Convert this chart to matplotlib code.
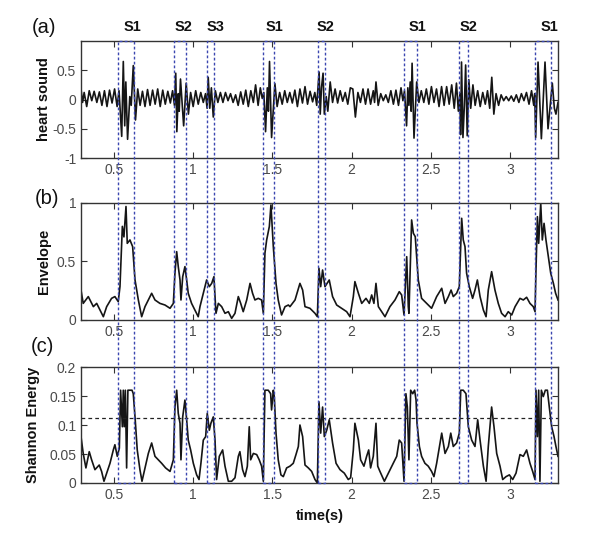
import matplotlib
matplotlib.use('Agg')
import matplotlib.pyplot as plt
from matplotlib.patches import Rectangle

plt.rcParams['font.family'] = ['Liberation Sans', 'DejaVu Sans']

# ---------------- data ----------------
hs_t = [0.292, 0.302, 0.312, 0.328, 0.344, 0.360, 0.375, 0.392, 0.408, 0.424, 0.440, 0.456, 0.472, 0.488,
        0.504, 0.520, 0.532, 0.542, 0.549, 0.559, 0.568, 0.575, 0.586, 0.600, 0.609, 0.622, 0.636, 0.650,
        0.665, 0.680, 0.696, 0.712, 0.728, 0.744, 0.760, 0.776, 0.792, 0.808, 0.824, 0.840, 0.856, 0.870,
        0.882, 0.890, 0.897, 0.906, 0.912, 0.920, 0.940, 0.956, 0.970, 0.984, 1.000, 1.016, 1.032, 1.048,
        1.064, 1.078, 1.088, 1.095, 1.105, 1.115, 1.127, 1.140, 1.156, 1.172, 1.188, 1.204, 1.220, 1.236,
        1.252, 1.268, 1.284, 1.300, 1.316, 1.332, 1.348, 1.364, 1.380, 1.394, 1.410, 1.424, 1.436, 1.446,
        1.457, 1.468, 1.475, 1.482, 1.495, 1.516, 1.530, 1.546, 1.562, 1.578, 1.594, 1.610, 1.626, 1.642,
        1.658, 1.674, 1.690, 1.706, 1.722, 1.738, 1.754, 1.768, 1.780, 1.795, 1.802, 1.810, 1.820, 1.828,
        1.840, 1.850, 1.865, 1.880, 1.896, 1.912, 1.928, 1.944, 1.960, 1.976, 1.992, 2.008, 2.024, 2.040,
        2.056, 2.072, 2.088, 2.104, 2.120, 2.137, 2.145, 2.154, 2.168, 2.184, 2.200, 2.216, 2.232, 2.248,
        2.264, 2.280, 2.296, 2.312, 2.324, 2.334, 2.347, 2.355, 2.362, 2.370, 2.376, 2.382, 2.394, 2.411,
        2.425, 2.440, 2.456, 2.472, 2.488, 2.504, 2.520, 2.536, 2.552, 2.568, 2.584, 2.600, 2.616, 2.632,
        2.648, 2.662, 2.674, 2.684, 2.688, 2.694, 2.703, 2.712, 2.720, 2.730, 2.740, 2.752, 2.766, 2.780,
        2.796, 2.812, 2.828, 2.844, 2.858, 2.872, 2.885, 2.898, 2.912, 2.928, 2.944, 2.960, 2.976, 2.992,
        3.008, 3.024, 3.040, 3.056, 3.072, 3.088, 3.104, 3.120, 3.136, 3.150, 3.156, 3.162, 3.177, 3.198,
        3.221, 3.240, 3.267, 3.280, 3.290, 3.303]
hs_v = [0.18, -0.05, 0.12, -0.12, 0.15, -0.02, 0.14, -0.05, 0.13, -0.10, 0.15, -0.12, 0.16, -0.06,
        0.18, -0.12, 0.15, -0.30, -0.63, 0.65, -0.45, 0.30, -0.68, 0.05, -0.10, 0.58, -0.35, 0.18,
        -0.10, 0.14, -0.12, 0.17, -0.10, 0.16, -0.08, 0.18, -0.12, 0.16, -0.08, 0.14, -0.06, 0.15,
        -0.10, 0.45, -0.55, 0.10, -0.20, 0.35, -0.45, 0.28, -0.25, 0.12, -0.12, 0.15, -0.08, 0.12,
        -0.05, 0.10, -0.15, 0.38, -0.15, 0.20, -0.30, 0.15, -0.05, 0.12, -0.05, 0.12, -0.02, 0.10,
        -0.05, 0.08, -0.10, 0.13, -0.08, 0.16, -0.12, 0.15, -0.05, 0.25, -0.10, 0.20, 0.02, 0.12,
        -0.55, 0.20, -0.20, 0.65, -0.65, 0.27, -0.12, 0.12, -0.08, 0.15, -0.05, 0.12, -0.06, 0.16,
        -0.12, 0.18, -0.06, 0.22, -0.08, 0.14, -0.04, 0.12, -0.10, 0.47, -0.25, 0.20, 0.45, -0.25,
        0.05, -0.20, 0.30, -0.05, 0.18, -0.06, 0.15, -0.03, 0.12, -0.08, 0.20, 0.18, -0.30, 0.12,
        -0.05, 0.18, -0.08, 0.18, -0.08, 0.15, -0.05, 0.30, -0.10, 0.10, -0.02, 0.08, -0.05, 0.15,
        -0.08, 0.16, -0.10, 0.20, -0.02, 0.15, -0.45, 0.20, -0.10, 0.30, -0.20, 0.62, -0.66, 0.30,
        -0.05, 0.15, -0.05, 0.18, -0.08, 0.22, -0.05, 0.18, -0.12, 0.22, -0.10, 0.22, -0.08, 0.25,
        -0.15, 0.28, -0.20, 0.10, -0.60, 0.64, -0.65, -0.10, 0.59, -0.62, 0.34, -0.15, 0.25, -0.10,
        0.15, -0.12, 0.12, -0.08, 0.15, -0.15, 0.38, -0.25, 0.10, -0.10, 0.08, -0.02, 0.05, -0.02,
        0.06, -0.03, 0.08, -0.05, 0.10, -0.02, 0.12, -0.08, 0.15, -0.10, 0.10, -0.65, 0.64, -0.67,
        0.64, -0.50, 0.28, -0.15, -0.25, -0.05]

env_t = [0.292, 0.306, 0.338, 0.370, 0.391, 0.412, 0.433, 0.454, 0.485, 0.506, 0.527, 0.538, 0.553, 0.563,
         0.576, 0.584, 0.601, 0.618, 0.633, 0.654, 0.675, 0.696, 0.717, 0.738, 0.759, 0.790, 0.822, 0.854,
         0.875, 0.885, 0.896, 0.906, 0.917, 0.923, 0.934, 0.948, 0.959, 0.969, 0.990, 1.011, 1.032, 1.043,
         1.064, 1.085, 1.102, 1.117, 1.131, 1.144, 1.159, 1.180, 1.201, 1.222, 1.243, 1.264, 1.285, 1.300,
         1.316, 1.338, 1.359, 1.375, 1.390, 1.411, 1.432, 1.443, 1.453, 1.464, 1.481, 1.491, 1.506, 1.523,
         1.537, 1.558, 1.580, 1.601, 1.611, 1.643, 1.674, 1.691, 1.706, 1.737, 1.769, 1.784, 1.794, 1.805,
         1.817, 1.832, 1.859, 1.880, 1.906, 1.937, 1.969, 1.990, 2.011, 2.021, 2.043, 2.064, 2.091, 2.112,
         2.127, 2.141, 2.154, 2.169, 2.190, 2.211, 2.242, 2.274, 2.301, 2.316, 2.331, 2.348, 2.358, 2.362,
         2.379, 2.390, 2.402, 2.421, 2.442, 2.474, 2.505, 2.537, 2.569, 2.590, 2.611, 2.628, 2.642, 2.663,
         2.680, 2.695, 2.705, 2.716, 2.726, 2.743, 2.764, 2.779, 2.794, 2.811, 2.832, 2.849, 2.863, 2.884,
         2.905, 2.926, 2.947, 2.969, 2.989, 3.011, 3.032, 3.063, 3.084, 3.105, 3.126, 3.147, 3.158, 3.164,
         3.173, 3.181, 3.194, 3.204, 3.215, 3.227, 3.242, 3.257, 3.274, 3.288, 3.303]
env_v = [0.256, 0.142, 0.200, 0.114, 0.142, 0.085, 0.028, 0.114, 0.185, 0.200, 0.157, 0.285, 0.800, 0.710,
         0.970, 0.655, 0.684, 0.627, 0.342, 0.171, 0.028, 0.114, 0.171, 0.228, 0.171, 0.142, 0.128, 0.100,
         0.142, 0.400, 0.584, 0.456, 0.342, 0.171, 0.370, 0.456, 0.342, 0.228, 0.142, 0.085, 0.028, 0.114,
         0.228, 0.342, 0.285, 0.313, 0.370, 0.057, 0.142, 0.114, 0.057, 0.071, 0.014, 0.057, 0.200, 0.142,
         0.071, 0.171, 0.313, 0.228, 0.171, 0.185, 0.171, 0.057, 0.570, 0.684, 0.800, 0.983, 0.627, 0.313,
         0.171, 0.043, 0.114, 0.128, 0.114, 0.171, 0.313, 0.256, 0.114, 0.100, 0.057, 0.028, 0.442, 0.285,
         0.427, 0.285, 0.342, 0.200, 0.128, 0.100, 0.071, 0.028, 0.200, 0.328, 0.228, 0.142, 0.185, 0.142,
         0.214, 0.142, 0.313, 0.114, 0.071, 0.028, 0.114, 0.171, 0.242, 0.214, 0.043, 0.541, 0.114, 0.057,
         0.855, 0.741, 0.712, 0.342, 0.185, 0.142, 0.100, 0.200, 0.271, 0.142, 0.200, 0.256, 0.200, 0.228,
         0.285, 0.869, 0.684, 0.627, 0.400, 0.285, 0.185, 0.256, 0.342, 0.200, 0.085, 0.028, 0.256, 0.413,
         0.256, 0.142, 0.057, 0.028, 0.071, 0.043, 0.114, 0.185, 0.171, 0.194, 0.142, 0.114, 0.071, 0.427,
         0.883, 0.655, 0.997, 0.684, 0.826, 0.684, 0.541, 0.400, 0.313, 0.228, 0.171]

se_t = [0.292, 0.306, 0.323, 0.344, 0.359, 0.380, 0.407, 0.422, 0.437, 0.454, 0.475, 0.496, 0.506, 0.521,
        0.534, 0.542, 0.553, 0.559, 0.565, 0.572, 0.580, 0.588, 0.614, 0.622, 0.633, 0.647, 0.664, 0.677,
        0.696, 0.717, 0.738, 0.759, 0.780, 0.801, 0.826, 0.854, 0.875, 0.885, 0.896, 0.906, 0.917, 0.923,
        0.934, 0.948, 0.959, 0.969, 0.984, 1.001, 1.022, 1.037, 1.049, 1.064, 1.079, 1.089, 1.102, 1.112,
        1.127, 1.138, 1.148, 1.165, 1.186, 1.201, 1.222, 1.243, 1.264, 1.285, 1.295, 1.312, 1.327, 1.342,
        1.354, 1.363, 1.380, 1.401, 1.417, 1.432, 1.443, 1.453, 1.474, 1.489, 1.495, 1.506, 1.512, 1.523,
        1.537, 1.554, 1.569, 1.590, 1.611, 1.632, 1.649, 1.664, 1.674, 1.691, 1.706, 1.727, 1.748, 1.769,
        1.784, 1.794, 1.805, 1.817, 1.828, 1.843, 1.859, 1.880, 1.902, 1.927, 1.954, 1.979, 1.994, 2.011,
        2.021, 2.043, 2.057, 2.078, 2.095, 2.108, 2.120, 2.137, 2.154, 2.165, 2.179, 2.207, 2.232, 2.263,
        2.285, 2.301, 2.316, 2.331, 2.343, 2.352, 2.362, 2.373, 2.386, 2.398, 2.407, 2.413, 2.428, 2.442,
        2.463, 2.484, 2.505, 2.520, 2.537, 2.569, 2.590, 2.611, 2.626, 2.642, 2.663, 2.680, 2.689, 2.705,
        2.722, 2.737, 2.758, 2.779, 2.796, 2.811, 2.832, 2.849, 2.863, 2.884, 2.899, 2.916, 2.937, 2.954,
        2.975, 2.996, 3.017, 3.038, 3.063, 3.084, 3.105, 3.126, 3.143, 3.158, 3.164, 3.173, 3.181, 3.189,
        3.198, 3.210, 3.223, 3.236, 3.248, 3.263, 3.278, 3.290, 3.303]
se_v = [0.080, 0.051, 0.026, 0.054, 0.040, 0.023, 0.031, 0.020, 0.003, 0.017, 0.034, 0.057, 0.066, 0.046,
        0.060, 0.160, 0.097, 0.160, 0.097, 0.160, 0.026, 0.160, 0.160, 0.154, 0.114, 0.057, 0.023, 0.003,
        0.026, 0.051, 0.069, 0.046, 0.040, 0.034, 0.026, 0.020, 0.040, 0.131, 0.160, 0.120, 0.103, 0.040,
        0.114, 0.143, 0.109, 0.074, 0.057, 0.034, 0.014, 0.006, 0.034, 0.074, 0.080, 0.120, 0.091, 0.103,
        0.114, 0.074, 0.006, 0.046, 0.057, 0.029, 0.003, 0.003, 0.009, 0.046, 0.054, 0.023, 0.011, 0.029,
        0.097, 0.040, 0.051, 0.049, 0.040, 0.029, 0.003, 0.160, 0.160, 0.154, 0.126, 0.160, 0.149, 0.086,
        0.040, 0.014, 0.011, 0.026, 0.029, 0.034, 0.049, 0.063, 0.100, 0.080, 0.031, 0.026, 0.020, 0.006,
        0.000, 0.140, 0.086, 0.131, 0.080, 0.091, 0.109, 0.069, 0.034, 0.023, 0.017, 0.006, 0.009, 0.057,
        0.103, 0.074, 0.040, 0.029, 0.046, 0.057, 0.026, 0.046, 0.103, 0.029, 0.020, 0.003, 0.017, 0.034,
        0.046, 0.074, 0.069, 0.003, 0.154, 0.131, 0.040, 0.160, 0.154, 0.160, 0.143, 0.103, 0.063, 0.046,
        0.034, 0.029, 0.020, 0.011, 0.034, 0.086, 0.051, 0.063, 0.086, 0.063, 0.069, 0.086, 0.160, 0.160,
        0.154, 0.097, 0.074, 0.063, 0.109, 0.074, 0.029, 0.003, 0.063, 0.131, 0.097, 0.051, 0.029, 0.006,
        0.011, 0.014, 0.006, 0.017, 0.049, 0.046, 0.057, 0.034, 0.020, 0.006, 0.160, 0.080, 0.160, 0.003,
        0.160, 0.149, 0.160, 0.160, 0.131, 0.097, 0.080, 0.063, 0.046]

seg_start = [0.526, 0.879, 1.086, 1.441, 1.788, 2.330, 2.676, 3.157]
seg_end = [0.626, 0.953, 1.131, 1.509, 1.830, 2.410, 2.732, 3.256]
seg_labels = ['S1', 'S2', 'S3', 'S1', 'S2', 'S1', 'S2', 'S1']
seg_label_t = [0.614, 0.942, 1.144, 1.516, 1.838, 2.413, 2.741, 3.246]
threshold = 0.112

xticks = [0.5, 1, 1.5, 2, 2.5, 3]
xticklabels = ['0.5', '1', '1.5', '2', '2.5', '3']

# ---------------- figure ----------------
fig = plt.figure(figsize=(6.0, 5.43), dpi=100)
L, W = 0.135, 0.795
XLIM = (0.292, 3.303)

axa = fig.add_axes([L, 0.709, W, 0.2155])
axb = fig.add_axes([L, 0.4107, W, 0.2155])
axc = fig.add_axes([L, 0.1105, W, 0.2136])

line_kw = dict(color='#151515', lw=1.2)
axa.plot(hs_t, hs_v, **line_kw)
axb.plot(env_t, env_v, **line_kw)
axc.plot(se_t, se_v, **line_kw)
axc.axhline(threshold, color='#222222', lw=0.9, ls=(0, (3, 2.5)))


def style(ax, ylim, yticks, yticklabels, ylabel, labelx):
    ax.set_xlim(*XLIM)
    ax.set_ylim(*ylim)
    ax.set_xticks(xticks)
    ax.set_xticklabels(xticklabels)
    ax.set_yticks(yticks)
    ax.set_yticklabels(yticklabels)
    ax.tick_params(direction='in', top=True, right=True, length=4, width=0.8,
                   color='#333333', labelcolor='#4a4a4a', labelsize=10, pad=3.5)
    for s in ax.spines.values():
        s.set_color('#333333')
        s.set_linewidth(1.0)
    ax.set_ylabel(ylabel, fontsize=10.5, fontweight='bold', color='#111111')
    ax.yaxis.set_label_coords(labelx, 0.5)


style(axa, (-1, 1), [-1, -0.5, 0, 0.5], ['-1', '-0.5', '0', '0.5'], 'heart sound', -0.062)
style(axb, (0, 1), [0, 0.5, 1], ['0', '0.5', '1'], 'Envelope', -0.062)
style(axc, (0, 0.2), [0, 0.05, 0.1, 0.15, 0.2], ['0', '0.05', '0.1', '0.15', '0.2'],
      'Shannon Energy', -0.085)
axc.set_xlabel('time(s)', fontsize=10.5, fontweight='bold', color='#111111', labelpad=5)

# segment labels above panel (a)
for t, lab in zip(seg_label_t, seg_labels):
    axa.text(t, 1.12, lab, transform=axa.get_xaxis_transform(), ha='center', va='center',
             fontsize=10.5, fontweight='bold', color='#111111')

# panel letters
fig.text(0.053, 0.950, '(a)', fontsize=14.5, va='center', ha='left', color='#111111')
fig.text(0.058, 0.635, '(b)', fontsize=14.5, va='center', ha='left', color='#111111')
fig.text(0.052, 0.361, '(c)', fontsize=14.5, va='center', ha='left', color='#111111')

# overlay axes for the dashed segment boxes spanning all panels
ov = fig.add_axes([L, 0.1105, W, 0.9245 - 0.1105])
ov.set_xlim(*XLIM)
ov.set_ylim(0, 1)
ov.axis('off')
ov.patch.set_alpha(0)
for t0, t1 in zip(seg_start, seg_end):
    ov.add_patch(Rectangle((t0, 0), t1 - t0, 1, fill=False, edgecolor='#3b47b0',
                           lw=1.0, ls=(0, (2, 1.6)), clip_on=False))

fig.savefig('out.png', dpi=100)
